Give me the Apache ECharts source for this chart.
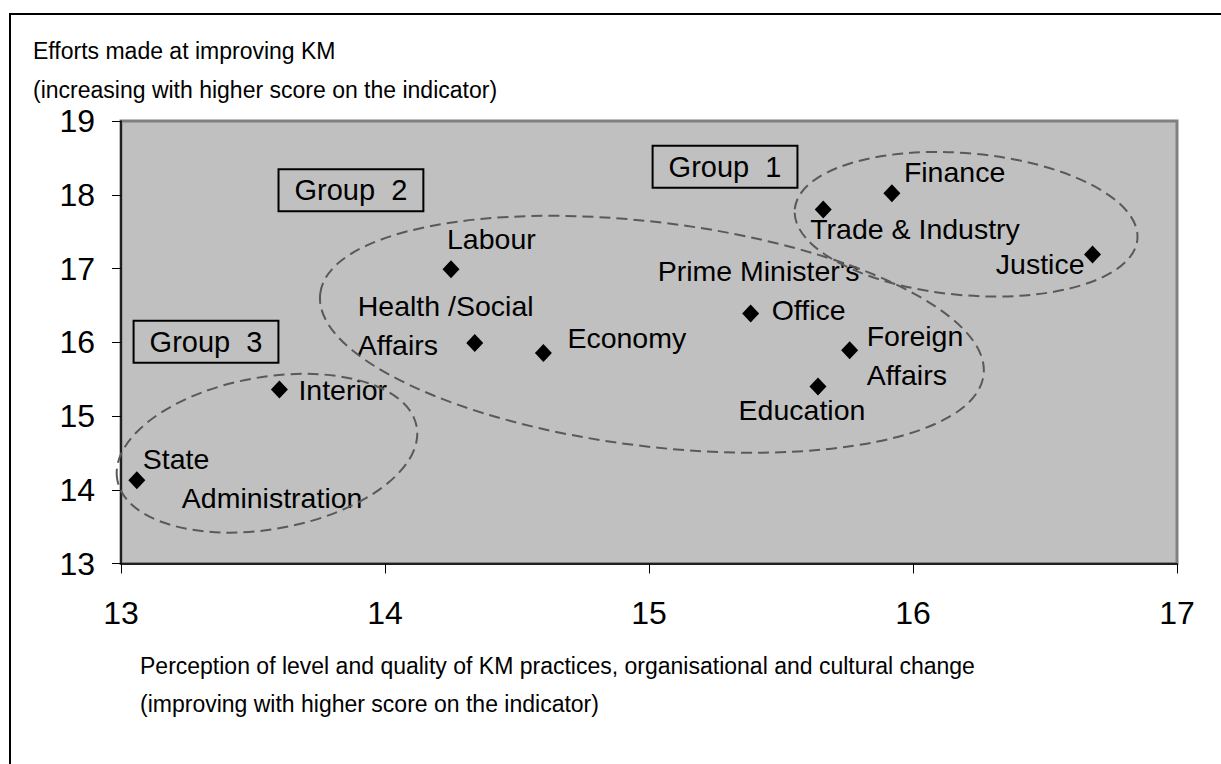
<!DOCTYPE html>
<html>
<head>
<meta charset="utf-8">
<script src="https://cdn.jsdelivr.net/npm/echarts@6/dist/echarts.min.js"></script>
<style>
  html, body { margin: 0; padding: 0; background: #fff; }
  #chart { width: 1221px; height: 764px; }
</style>
</head>
<body>
<div id="chart"></div>
<script>
// ministries, with the line breaks used in their labels
const ministries = [
  "State\nAdministration", "Interior", "Labour", "Health /Social\nAffairs", "Economy",
  "Prime Minister's\nOffice", "Education", "Foreign\nAffairs",
  "Trade & Industry", "Finance", "Justice"
];
// x: perception of KM practices, y: efforts made at improving KM
const kmPerception = [13.06, 13.60, 14.25, 14.34, 14.60, 15.385, 15.64, 15.76, 15.66, 15.92, 16.68];
const kmEfforts    = [14.13, 15.36, 16.99, 15.99, 15.855, 16.39, 15.40, 15.89, 17.80, 18.02, 17.19];
const xTicks = [13, 14, 15, 16, 17];
const yTicks = [13, 14, 15, 16, 17, 18, 19];
const groupNames = ["Group  1", "Group  2", "Group  3"];

const xTitle = ["Perception of level and quality of KM practices, organisational and cultural change",
                "(improving with higher score on the indicator)"];
const yTitle = ["Efforts made at improving KM",
                "(increasing with higher score on the indicator)"];

const FONT = "'Liberation Sans', Arial, sans-serif";

// where each label sits around its point (pixels), kept apart from the data
const labelPlace = [
  { align: "left",   dx: 6,    dy: -2,  indent: [0, 39] },
  { align: "left",   dx: 19,   dy: 1 },
  { align: "left",   dx: -4,   dy: -30 },
  { align: "left",   dx: -117, dy: -17 },
  { align: "left",   dx: 24,   dy: -15 },
  { align: "left",   dx: -93,  dy: -23, indent: [0, 114] },
  { align: "center", dx: -16,  dy: 23 },
  { align: "left",   dx: 17,   dy: 5 },
  { align: "left",   dx: -13,  dy: 19 },
  { align: "left",   dx: 12,   dy: -21 },
  { align: "right",  dx: -8,   dy: 10 }
];

// dashed rings round the groups: centre in data units, radii in px, tilt in degrees
const groupRings = [
  { center: [16.201, 17.60], rx: 172, ry: 71, tilt: -5 },
  { center: [15.011, 16.108], rx: 334, ry: 112, tilt: -7 },
  { center: [13.553, 14.495], rx: 152, ry: 76, tilt: 10 }
];
const groupBoxAt = [[15.288, 18.38], [13.871, 18.06], [13.322, 16.007]];

const chart = echarts.init(document.getElementById("chart"), null, { renderer: "svg" });

const points = ministries.map((name, i) => {
  const p = labelPlace[i];
  const indent = p.indent || [0, 0];
  const rich = {};
  name.split("\n").forEach((_, k) => {
    rich["l" + k] = {
      color: "#000", fontFamily: FONT, fontSize: 28.5, lineHeight: 39,
      padding: [0, 0, 0, indent[k] || 0]
    };
  });
  return {
    name: name,
    value: [kmPerception[i], kmEfforts[i]],
    label: {
      show: true,
      position: "inside",
      align: p.align,
      verticalAlign: "middle",
      offset: [p.dx, p.dy],
      color: "#000",
      opacity: 1,
      formatter: () => name.split("\n").map((t, k) => "{l" + k + "|" + t + "}").join("\n"),
      rich: rich
    }
  };
});

const option = {
  animation: false,
  backgroundColor: "#fff",
  grid: {
    left: 121, top: 121, width: 1056, height: 442.5,
    show: true,
    backgroundColor: "#c0c0c0",
    borderColor: "#808080",
    borderWidth: 3,
    outerBoundsMode: "none"
  },
  xAxis: {
    type: "value",
    min: xTicks[0], max: xTicks[xTicks.length - 1], interval: 1,
    axisLine: { lineStyle: { color: "#000", width: 1.5 } },
    axisTick: { length: 10, lineStyle: { color: "#000" } },
    axisLabel: { fontSize: 32, color: "#000", fontFamily: FONT, margin: 33 },
    splitLine: { show: false }
  },
  yAxis: {
    type: "value",
    min: yTicks[0], max: yTicks[yTicks.length - 1], interval: 1,
    axisLine: { show: true, lineStyle: { color: "#000", width: 1.5 } },
    axisTick: { show: true, length: 9, lineStyle: { color: "#000" } },
    axisLabel: { fontSize: 32, color: "#000", fontFamily: FONT, margin: 26 },
    splitLine: { show: false }
  },
  series: [{
    type: "scatter",
    symbol: "diamond",
    symbolSize: [17, 18],
    itemStyle: { color: "#000", opacity: 1 },
    emphasis: { disabled: true },
    data: points
  }]
};

chart.setOption(option);

function titleLines(lines, left, top, gap) {
  return lines.map((t, i) => ({
    type: "text", x: left, y: top + i * gap, z: 10,
    style: { text: t, fill: "#000", fontSize: 23, fontFamily: FONT, align: "left", verticalAlign: "middle" }
  }));
}

const graphics = [{
  type: "rect", z: 0, silent: true,
  shape: { x: 10, y: 14, width: 1400, height: 900 },
  style: { fill: "none", stroke: "#000", lineWidth: 2 }
}];

groupRings.forEach(r => {
  const c = chart.convertToPixel({ gridIndex: 0 }, r.center);
  graphics.push({
    type: "ellipse", z: 20, silent: true,
    x: c[0], y: c[1], rotation: r.tilt * Math.PI / 180,
    shape: { cx: 0, cy: 0, rx: r.rx, ry: r.ry },
    style: { fill: "none", stroke: "#595959", lineWidth: 2, lineDash: [11, 6] }
  });
});

groupNames.forEach((g, i) => {
  const c = chart.convertToPixel({ gridIndex: 0 }, groupBoxAt[i]);
  graphics.push({
    type: "text", z: 20, x: c[0], y: c[1],
    style: {
      text: g, fill: "#000", fontSize: 29, fontFamily: FONT,
      align: "center", verticalAlign: "middle",
      borderColor: "#000", borderWidth: 2, padding: [7, 16, 6, 16]
    }
  });
});

graphics.push(...titleLines(yTitle, 33, 51, 39));
graphics.push(...titleLines(xTitle, 140, 666, 38));

chart.setOption({ graphic: graphics });
</script>
</body>
</html>
